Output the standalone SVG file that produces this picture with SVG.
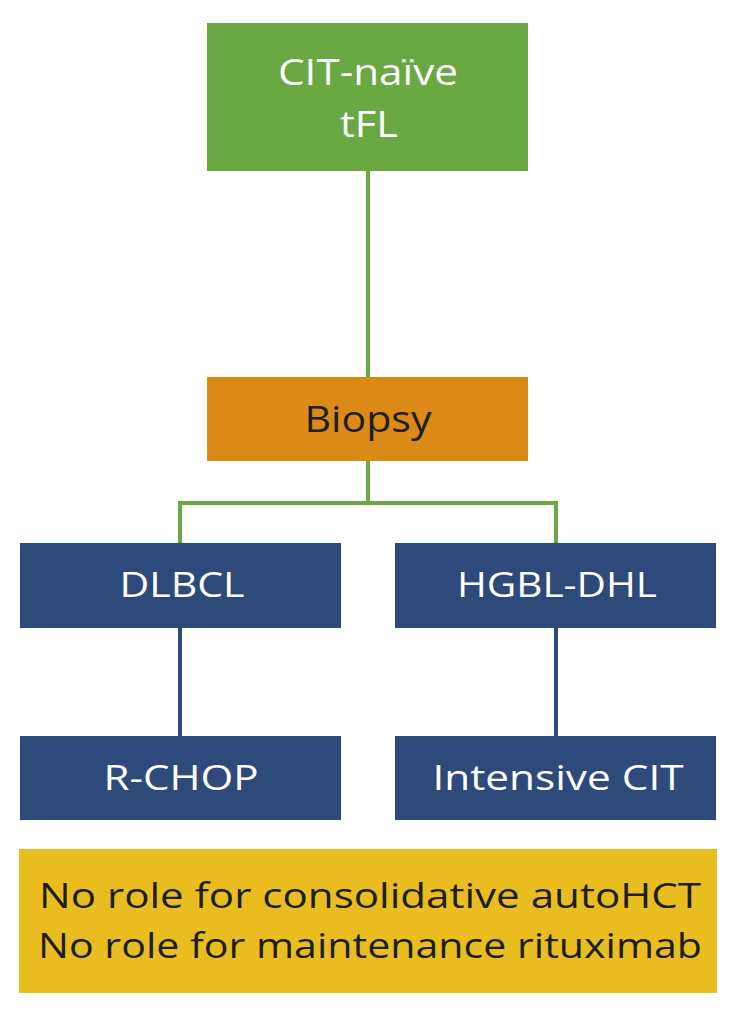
<svg xmlns="http://www.w3.org/2000/svg" width="732" height="1017" viewBox="0 0 732 1017">
<style>
.t{font-family:"Open Sans","Noto Sans","Liberation Sans",sans-serif;text-anchor:middle;dominant-baseline:central}
.w{fill:#ffffff}
.d{fill:#1e1e1e}
.navy{fill:#2e4a7b}
</style>
<rect width="732" height="1017" fill="#ffffff"/>
<g id="connectors" fill="none" stroke-width="4">
<path d="M368 170V377" stroke="#6aa843"/>
<path d="M368 461V503M180 503H556M180 501V543M556 501V543" stroke="#6aa843"/>
<path d="M180 628V736M556 628V736" stroke="#2e4a7b"/>
</g>
<g id="n-cit">
<rect x="207" y="23" width="321" height="148" fill="#6aa843"/>
<text class="t w" x="368" y="71" font-size="36" textLength="180" lengthAdjust="spacingAndGlyphs">CIT-naïve</text>
<text class="t w" x="369" y="123" font-size="36" textLength="58" lengthAdjust="spacingAndGlyphs">tFL</text>
</g>
<g id="n-biopsy">
<rect x="207" y="377" width="321" height="84" fill="#db8a17"/>
<text class="t d" x="368" y="418" font-size="36" textLength="127" lengthAdjust="spacingAndGlyphs">Biopsy</text>
</g>
<g id="n-dlbcl">
<rect class="navy" x="20" y="543" width="321" height="85"/>
<text class="t w" x="182" y="584" font-size="34" textLength="125" lengthAdjust="spacingAndGlyphs">DLBCL</text>
</g>
<g id="n-hgbl">
<rect class="navy" x="395" y="543" width="321" height="85"/>
<text class="t w" x="557" y="584" font-size="34" textLength="200" lengthAdjust="spacingAndGlyphs">HGBL-DHL</text>
</g>
<g id="n-rchop">
<rect class="navy" x="20" y="736" width="321" height="84"/>
<text class="t w" x="181" y="777" font-size="34" textLength="155" lengthAdjust="spacingAndGlyphs">R-CHOP</text>
</g>
<g id="n-intensive">
<rect class="navy" x="395" y="736" width="321" height="84"/>
<text class="t w" x="558" y="777" font-size="34" textLength="251" lengthAdjust="spacingAndGlyphs">Intensive CIT</text>
</g>
<g id="n-note">
<rect x="19" y="849" width="698" height="144" fill="#e9bd1f"/>
<text class="t d" x="370" y="895" font-size="34" textLength="662" lengthAdjust="spacingAndGlyphs">No role for consolidative autoHCT</text>
<text class="t d" x="370" y="945" font-size="34" textLength="664" lengthAdjust="spacingAndGlyphs">No role for maintenance rituximab</text>
</g>
</svg>
